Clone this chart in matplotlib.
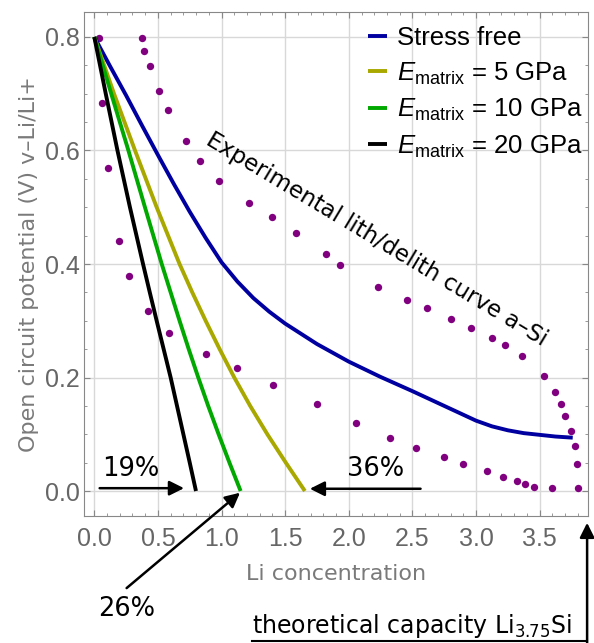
import matplotlib
matplotlib.use("Agg")
import matplotlib.pyplot as plt

plt.rcParams['font.family'] = ['Liberation Sans', 'DejaVu Sans']
plt.rcParams['mathtext.fontset'] = 'custom'
plt.rcParams['mathtext.rm'] = 'Liberation Sans'
plt.rcParams['mathtext.it'] = 'Liberation Sans:italic'

# experimental a-Si curve
lith_x = [0.04, 0.063, 0.107, 0.194, 0.273, 0.42, 0.588, 0.876, 1.123, 1.405, 1.754, 2.06,
          2.323, 2.527, 2.747, 2.896, 3.09, 3.21, 3.32, 3.383, 3.456, 3.60, 3.805]
lith_y = [0.798, 0.684, 0.569, 0.441, 0.379, 0.318, 0.278, 0.241, 0.216, 0.186, 0.153, 0.120,
          0.093, 0.076, 0.060, 0.048, 0.035, 0.025, 0.017, 0.0125, 0.007, 0.006, 0.005]
delith_x = [0.376, 0.39, 0.436, 0.506, 0.577, 0.718, 0.832, 0.98, 1.212, 1.393, 1.582, 1.818,
            1.932, 2.231, 2.454, 2.611, 2.80, 2.957, 3.127, 3.229, 3.36, 3.533, 3.622, 3.666,
            3.703, 3.75, 3.774, 3.792]
delith_y = [0.798, 0.776, 0.749, 0.704, 0.671, 0.616, 0.581, 0.546, 0.507, 0.483, 0.454, 0.418,
            0.399, 0.360, 0.336, 0.323, 0.3035, 0.287, 0.269, 0.258, 0.238, 0.202, 0.174, 0.153,
            0.133, 0.106, 0.080, 0.048]

# model curves
free_x = [0.0, 0.125, 0.25, 0.375, 0.5, 0.625, 0.75, 0.875, 1.0, 1.125, 1.25, 1.375, 1.5,
          1.75, 2.0, 2.25, 2.5, 2.75, 3.0, 3.125, 3.25, 3.375, 3.5, 3.625, 3.76]
free_y = [0.80, 0.748, 0.697, 0.644, 0.592, 0.541, 0.492, 0.446, 0.403, 0.369, 0.340, 0.316,
          0.295, 0.259, 0.228, 0.201, 0.176, 0.150, 0.124, 0.114, 0.107, 0.102, 0.099, 0.096, 0.094]
e5_x = [0.0, 0.155, 0.32, 0.49, 0.67, 0.77, 0.875, 0.985, 1.10, 1.225, 1.36, 1.505, 1.655]
e5_y = [0.80, 0.70, 0.60, 0.50, 0.40, 0.35, 0.30, 0.25, 0.20, 0.15, 0.10, 0.05, 0.0]
e10_x = [0.0, 0.133, 0.268, 0.398, 0.53, 0.60, 0.67, 0.742, 0.817, 0.895, 0.977, 1.062, 1.15]
e10_y = [0.80, 0.70, 0.60, 0.50, 0.40, 0.35, 0.30, 0.25, 0.20, 0.15, 0.10, 0.05, 0.0]
e20_x = [0.0, 0.09, 0.182, 0.28, 0.383, 0.436, 0.49, 0.545, 0.60, 0.65, 0.70, 0.75, 0.799]
e20_y = [0.80, 0.70, 0.60, 0.50, 0.40, 0.35, 0.30, 0.25, 0.20, 0.15, 0.10, 0.05, 0.0]

labels = ['Stress free', r'$E_{\mathrm{matrix}}$ = 5 GPa',
          r'$E_{\mathrm{matrix}}$ = 10 GPa', r'$E_{\mathrm{matrix}}$ = 20 GPa']
colors = ['#0000a0', '#a8a800', '#00a800', 'black']

fig = plt.figure(figsize=(5.94, 6.43), dpi=100)
ax = fig.add_axes([84 / 594, 1 - 516 / 643, 504 / 594, 504 / 643])

ax.plot(lith_x, lith_y, 'o', color='#800080', ms=5.3, mec='none')
ax.plot(delith_x, delith_y, 'o', color='#800080', ms=5.3, mec='none')

curves = [(free_x, free_y), (e5_x, e5_y), (e10_x, e10_y), (e20_x, e20_y)]
for (cx, cy), c, lab in zip(curves, colors, labels):
    ax.plot(cx, cy, color=c, lw=2.8, label=lab, solid_capstyle='butt', solid_joinstyle='round')

ax.set_xlim(-0.081, 3.88)
ax.set_ylim(-0.044, 0.844)
ax.set_xticks([0, 0.5, 1, 1.5, 2, 2.5, 3, 3.5])
ax.set_xticklabels(['0.0', '0.5', '1.0', '1.5', '2.0', '2.5', '3.0', '3.5'])
ax.set_yticks([0, 0.2, 0.4, 0.6, 0.8])
ax.set_yticklabels(['0.0', '0.2', '0.4', '0.6', '0.8'])
ax.set_xticks([i * 0.1 for i in range(39)], minor=True)
ax.set_yticks([i * 0.05 for i in range(17)], minor=True)
ax.tick_params(which='both', direction='in', top=True, right=True, color='#888888',
               labelsize=18, labelcolor='#666666')
ax.tick_params(which='major', length=4, width=0.8)
ax.tick_params(which='minor', length=2.2, width=0.6)
ax.tick_params(axis='x', pad=8)
ax.tick_params(axis='y', pad=3)
for s in ax.spines.values():
    s.set_color('#888888')
ax.grid(True, which='major', color='#d8d8d8', lw=1.0)
ax.set_axisbelow(True)

ax.set_xlabel('Li concentration', fontsize=16, color='#7a7a7a', family='DejaVu Sans', labelpad=9)
ax.set_ylabel('Open circuit potential (V) v\u2013Li/Li+', fontsize=16, color='#7a7a7a',
              family='DejaVu Sans', labelpad=4)

ax.legend(loc='upper left', bbox_to_anchor=(0.563, 0.972), frameon=False, fontsize=18.5,
          handlelength=0.75, handletextpad=0.4, labelspacing=0.4, borderpad=0, borderaxespad=0)

ann = dict(family='DejaVu Sans', color='black')
ax.text(2.22, 0.443, 'Experimental lith/delith curve a\u2013Si', rotation=-31,
        ha='center', va='center', fontsize=16.5, rotation_mode='anchor', **ann)

arrow = dict(arrowstyle='-|>', color='black', lw=1.8, mutation_scale=22, shrinkA=0, shrinkB=0)
ax.annotate('', xy=(0.705, 0.005), xytext=(0.042, 0.005), arrowprops=arrow)
ax.text(0.286, 0.038, '19%', ha='center', va='center', fontsize=18.5, **ann)
ax.annotate('', xy=(1.694, 0.004), xytext=(2.564, 0.004), arrowprops=arrow)
ax.text(2.21, 0.038, '36%', ha='center', va='center', fontsize=18.5, **ann)
ax.annotate('', xy=(1.145, -0.003), xytext=(0.254, -0.171), arrowprops=arrow,
            annotation_clip=False)
ax.text(0.254, -0.207, '26%', ha='center', va='center', fontsize=18.5, clip_on=False, **ann)

ax.annotate('', xy=(3.873, -0.056), xytext=(3.873, -0.27), arrowprops=arrow,
            annotation_clip=False)
ax.plot([1.239, 3.873], [-0.2646, -0.2646], color='black', lw=1.5, clip_on=False)
ax.text(1.239, -0.238, 'theoretical capacity Li$_{3.75}$Si', ha='left', va='center',
        fontsize=17, clip_on=False, math_fontfamily='dejavusans', **ann)

fig.savefig('out.png', dpi=100)
